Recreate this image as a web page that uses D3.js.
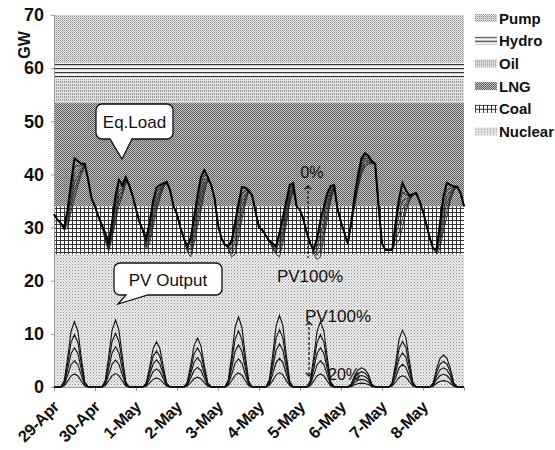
<!DOCTYPE html>
<html>
<head>
<style>
body { margin: 0; background: #fff; }
svg { display: block; }
text { font-family: "Liberation Sans", Arial, sans-serif; font-weight: bold; fill: #111; }
</style>
</head>
<body>
<svg id="chart" width="555" height="450"></svg>
<script src="https://d3js.org/d3.v7.min.js"></script>
<script>
// --- data ---
var dayLabels = ["29-Apr", "30-Apr", "1-May", "2-May", "3-May", "4-May", "5-May", "6-May", "7-May", "8-May"];
var yTicks = [0, 10, 20, 30, 40, 50, 60, 70];

// supply stack, bottom to top (GW)
var fuels = ["Nuclear", "Coal", "LNG", "Oil", "Hydro", "Pump"];
var fuelGW = [25, 9, 19.5, 4.5, 3, 9];

// PV penetration levels drawn
var pvShares = [0.2, 0.4, 0.6, 0.8, 1.0];

// load with 0% PV, every 2 hours (00,02,...,22) for 10 days + end point
var loadGW = [
  32.5, 31.5, 30.8, 30, 33.5, 38.5, 43, 42.5, 42, 42, 39, 35.5,
  34, 32, 30.5, 29, 27, 31, 36, 39, 38, 39.5, 38, 36,
  33.5, 31, 29.5, 28, 31, 35, 37.5, 38, 38.3, 38.6, 37, 34,
  32.5, 30, 28, 26.5, 28, 32, 36, 39.5, 40.8, 39.5, 38, 35.5,
  30.5, 28, 26.8, 26.5, 27.5, 31, 34.5, 37.6, 37.5, 37, 36, 33,
  30, 29.5, 28.5, 27.5, 27, 26.5, 29, 32, 35, 38, 38.4, 34,
  33.3, 31.5, 29, 27, 26, 28, 31.5, 34, 36.5, 37.8, 38, 33.5,
  31, 29, 27, 31, 36, 40, 43, 44, 43.5, 42.5, 42, 34,
  27, 25.8, 25.8, 25.8, 31, 35.5, 38.4, 37, 36, 36.3, 36.5, 35,
  33, 30.5, 28, 26, 26, 31, 36, 38.4, 38, 37.8, 37.7, 36.5,
  34
];

// equivalent load with 100% PV, same time steps
var eqLoad100GW = [
  32.5, 31.5, 30.8, 29.5, 30, 33, 35.5, 38, 40, 41.5, 39, 35.5,
  34, 32, 30.5, 27.5, 25.5, 28, 31, 34, 36, 38.5, 38, 36,
  33.5, 31, 29.5, 26, 27, 30, 33, 35.5, 37.5, 38.6, 37, 34,
  32.5, 30, 28, 25.5, 24.5, 27, 30, 33, 36.5, 39, 38, 35.5,
  30.5, 28, 26.8, 26, 24.5, 25, 28, 31.5, 34.5, 37, 36, 33,
  30, 29.5, 28.5, 27.5, 26, 25, 24.5, 27, 30.5, 34.5, 37, 34,
  33.3, 31.5, 29, 27, 25, 24, 24.5, 28, 31.5, 35, 37.5, 33.5,
  31, 29, 27, 30.5, 34, 37.5, 40, 41.5, 42, 42, 42, 34,
  27, 25.8, 25.8, 25.8, 27, 27.5, 30, 33, 35, 36, 36.5, 35,
  33, 30.5, 28, 26, 25, 26, 29.5, 32, 35, 37, 37.7, 36.5,
  34
];

// PV output at 100% penetration, same time steps
var pv100GW = [
  0, 0, 0, 1.2, 5.5, 10.5, 12.3, 10.5, 5.5, 1.0, 0, 0,
  0, 0, 0, 1.2, 5.7, 10.7, 12.6, 10.7, 5.7, 1.0, 0, 0,
  0, 0, 0, 0.8, 3.8, 7.2, 8.5, 7.2, 3.8, 0.7, 0, 0,
  0, 0, 0, 0.9, 4.1, 7.8, 9.2, 7.8, 4.1, 0.8, 0, 0,
  0, 0, 0, 1.3, 5.9, 11.2, 13.2, 11.2, 5.9, 1.1, 0, 0,
  0, 0, 0, 1.3, 6.0, 11.5, 13.5, 11.5, 6.0, 1.1, 0, 0,
  0, 0, 0, 1.2, 5.5, 10.5, 12.3, 10.5, 5.5, 1.0, 0, 0,
  0, 0, 0, 0.6, 2.2, 3.2, 3.6, 3.3, 2.4, 0.6, 0, 0,
  0, 0, 0, 0.9, 4.5, 9.0, 10.7, 9.3, 5.0, 1.0, 0, 0,
  0, 0, 0, 0.8, 3.5, 5.4, 6.0, 5.4, 3.5, 0.8, 0, 0,
  0
];

// --- layout ---
var svg = d3.select("#chart");
var x = d3.scaleLinear().domain([0, 10]).range([54, 464]);
var y = d3.scaleLinear().domain([0, 70]).range([387, 15]);
var stepDays = 1 / 12;

// --- patterns ---
var defs = svg.append("defs");
function pattern(id, w, h, bg) {
  var p = defs.append("pattern").attr("id", id)
    .attr("patternUnits", "userSpaceOnUse").attr("width", w).attr("height", h);
  p.append("rect").attr("width", w).attr("height", h).attr("fill", bg);
  return p;
}
var pNuc = pattern("p-nuclear", 3, 3, "#ececec");
pNuc.append("rect").attr("x", 0).attr("y", 0).attr("width", 1).attr("height", 1).attr("fill", "#8a8a8a");
pNuc.append("rect").attr("x", 1.5).attr("y", 1.5).attr("width", 1).attr("height", 1).attr("fill", "#a8a8a8");

var pCoal = pattern("p-coal", 4, 4, "#ffffff");
pCoal.append("rect").attr("x", 0).attr("y", 0).attr("width", 1).attr("height", 4).attr("fill", "#333");
pCoal.append("rect").attr("x", 0).attr("y", 0).attr("width", 4).attr("height", 1).attr("fill", "#333");

var pLng = pattern("p-lng", 2, 2, "#c4c4c4");
pLng.append("rect").attr("x", 0).attr("y", 0).attr("width", 1).attr("height", 1).attr("fill", "#555");
pLng.append("rect").attr("x", 1).attr("y", 1).attr("width", 1).attr("height", 1).attr("fill", "#666");

var pOil = pattern("p-oil", 2, 3, "#e2e2e2");
pOil.append("rect").attr("x", 0).attr("y", 0).attr("width", 1).attr("height", 2).attr("fill", "#9a9a9a");

var pHydro = pattern("p-hydro", 4, 4, "#f4f4f4");
pHydro.append("rect").attr("x", 0).attr("y", 0).attr("width", 4).attr("height", 1.2).attr("fill", "#333");

var pPump = pattern("p-pump", 2, 2, "#e6e6e6");
pPump.append("rect").attr("x", 0).attr("y", 0).attr("width", 1).attr("height", 1).attr("fill", "#8c8c8c");
pPump.append("rect").attr("x", 1).attr("y", 1).attr("width", 1).attr("height", 1).attr("fill", "#bcbcbc");

var fuelFill = {
  Nuclear: "url(#p-nuclear)", Coal: "url(#p-coal)", LNG: "url(#p-lng)",
  Oil: "url(#p-oil)", Hydro: "url(#p-hydro)", Pump: "url(#p-pump)"
};

// --- stacked supply bands ---
var bands = [];
var base = 0;
fuels.forEach(function (f, i) {
  bands.push({ name: f, y0: base, y1: base + fuelGW[i] });
  base += fuelGW[i];
});

svg.append("g").selectAll("rect").data(bands).enter().append("rect")
  .attr("x", x(0)).attr("width", x(10) - x(0))
  .attr("y", function (d) { return y(d.y1); })
  .attr("height", function (d) { return y(d.y0) - y(d.y1); })
  .attr("fill", function (d) { return fuelFill[d.name]; });

// --- axes ---
var yAxis = svg.append("g").attr("transform", "translate(" + x(0) + ",0)")
  .call(d3.axisLeft(y).tickValues(yTicks).tickSize(3).tickPadding(7));
yAxis.select(".domain").attr("stroke", "#999");
yAxis.selectAll(".tick line").attr("stroke", "#999");
yAxis.selectAll("text").attr("font-size", 18).attr("fill", "#111")
  .style("font-family", "'Liberation Sans', Arial, sans-serif").style("font-weight", "bold");

var xAxis = svg.append("g").attr("transform", "translate(0," + y(0) + ")")
  .call(d3.axisBottom(x).tickValues(d3.range(0, 11)).tickSize(4).tickFormat(""));
xAxis.select(".domain").attr("stroke", "#999");
xAxis.selectAll(".tick line").attr("stroke", "#999");

svg.append("g").selectAll("text").data(dayLabels).enter().append("text")
  .attr("transform", function (d, i) { return "translate(" + (x(i) + 6) + "," + (y(0) + 21) + ") rotate(-45)"; })
  .attr("text-anchor", "end")
  .attr("font-size", 16.5)
  .style("letter-spacing", "-0.4px")
  .text(function (d) { return d; });

svg.append("text")
  .attr("transform", "translate(" + 30 + "," + 45 + ") rotate(-90)")
  .attr("text-anchor", "middle")
  .attr("font-size", 16)
  .text("GW");

// --- lines ---
var line = d3.line()
  .x(function (d, i) { return x(i * stepDays); })
  .y(function (d) { return y(d); });

var gLines = svg.append("g").attr("fill", "none");

// PV output lines
pvShares.forEach(function (s) {
  gLines.append("path")
    .attr("d", line(pv100GW.map(function (v) { return v * s; })))
    .attr("stroke", "#111").attr("stroke-width", 1.1);
});

// equivalent load lines for each PV share
pvShares.slice().reverse().forEach(function (s) {
  gLines.append("path")
    .attr("d", line(loadGW.map(function (v, i) { return v - s * (v - eqLoad100GW[i]); })))
    .attr("stroke", "#222").attr("stroke-width", 0.9);
});
gLines.append("path").attr("d", line(loadGW))
  .attr("stroke", "#000").attr("stroke-width", 2);

// --- callouts ---
function callout(bx, by, bw, bh, r, t1, t2, tipX, tipY) {
  var p = d3.path();
  p.moveTo(bx + r, by);
  p.lineTo(bx + bw - r, by);
  p.arcTo(bx + bw, by, bx + bw, by + r, r);
  p.lineTo(bx + bw, by + bh - r);
  p.arcTo(bx + bw, by + bh, bx + bw - r, by + bh, r);
  p.lineTo(t2, by + bh);
  p.lineTo(tipX, tipY);
  p.lineTo(t1, by + bh);
  p.lineTo(bx + r, by + bh);
  p.arcTo(bx, by + bh, bx, by + bh - r, r);
  p.lineTo(bx, by + r);
  p.arcTo(bx, by, bx + r, by, r);
  p.closePath();
  return p.toString();
}
var gAnn = svg.append("g");
gAnn.append("path").attr("d", callout(96, 104, 77, 35, 6, 110, 132, 122, 159))
  .attr("fill", "#fff").attr("stroke", "#111").attr("stroke-width", 1.3);
gAnn.append("text").attr("x", 134.5).attr("y", 128).attr("text-anchor", "middle")
  .attr("font-size", 17).style("font-weight", "normal").text("Eq.Load");

gAnn.append("path").attr("d", callout(114, 263, 108, 32, 6, 126, 148, 118, 304))
  .attr("fill", "#fff").attr("stroke", "#111").attr("stroke-width", 1.3);
gAnn.append("text").attr("x", 168).attr("y", 286).attr("text-anchor", "middle")
  .attr("font-size", 17).style("font-weight", "normal").text("PV Output");

// arrows
defs.append("marker").attr("id", "ah").attr("viewBox", "0 0 10 10")
  .attr("refX", 5).attr("refY", 5).attr("markerWidth", 7).attr("markerHeight", 7)
  .attr("orient", "auto-start-reverse")
  .append("path").attr("d", "M1,1 L5,5 L1,9").attr("fill", "none").attr("stroke", "#111").attr("stroke-width", 1.5);

gAnn.append("line").attr("x1", 308).attr("x2", 308).attr("y1", 186).attr("y2", 258)
  .attr("stroke", "#111").attr("stroke-dasharray", "3,2").attr("stroke-width", 1.2)
  .attr("marker-start", "url(#ah)");
gAnn.append("line").attr("x1", 309).attr("x2", 309).attr("y1", 322).attr("y2", 376)
  .attr("stroke", "#111").attr("stroke-dasharray", "3,2").attr("stroke-width", 1.2)
  .attr("marker-start", "url(#ah)").attr("marker-end", "url(#ah)");

gAnn.append("text").attr("x", 312).attr("y", 178).attr("text-anchor", "middle")
  .attr("font-size", 16).style("font-weight", "normal").text("0%");
gAnn.append("text").attr("x", 310).attr("y", 282).attr("text-anchor", "middle")
  .attr("font-size", 17).style("font-weight", "normal").text("PV100%");
gAnn.append("text").attr("x", 338).attr("y", 322).attr("text-anchor", "middle")
  .attr("font-size", 17).style("font-weight", "normal").text("PV100%");
gAnn.append("text").attr("x", 344).attr("y", 380).attr("text-anchor", "middle")
  .attr("font-size", 16).style("font-weight", "normal").text("20%");

// --- legend ---
var legend = svg.append("g").selectAll("g").data(fuels.slice().reverse()).enter().append("g")
  .attr("transform", function (d, i) { return "translate(475," + (18 + i * 22.7) + ")"; });
legend.append("rect").attr("x", 0).attr("y", -4).attr("width", 22).attr("height", 8)
  .attr("fill", function (d) { return fuelFill[d]; });
legend.append("text").attr("x", 24).attr("y", 5.5).attr("font-size", 15)
  .style("font-family", "'Liberation Sans Narrow', 'Liberation Sans', Arial, sans-serif")
  .text(function (d) { return d; });
</script>
</body>
</html>
